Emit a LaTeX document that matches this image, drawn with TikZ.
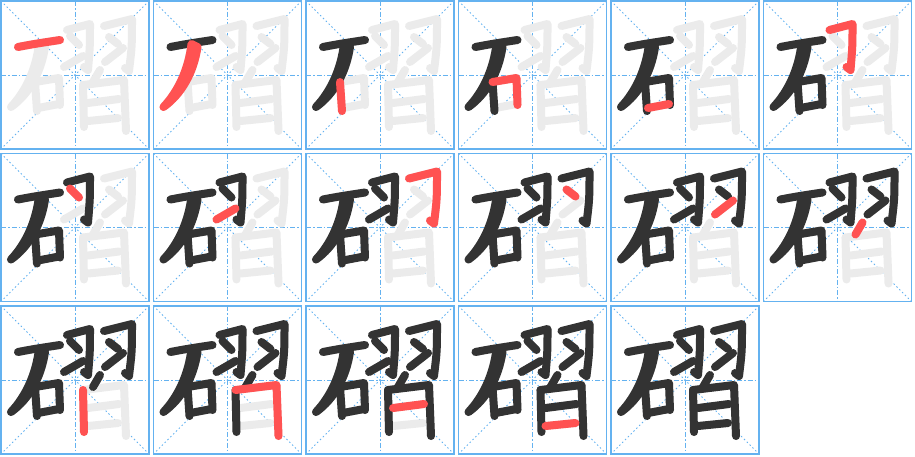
\documentclass[tikz,border=0pt]{standalone}
\usetikzlibrary{calc}

\definecolor{inkgray}{RGB}{51,51,51}
\definecolor{hotred}{RGB}{255,82,82}
\definecolor{ghostgray}{RGB}{235,235,235}
\definecolor{gridblue}{RGB}{100,178,240}

% one stroke of the character, in cell coordinates (0..148, y down)
\newcommand{\drawstroke}[2]{%
  \ifcase#1\or
    \draw[#2] (17,46) .. controls (32,43) and (46,41) .. (59,39);\or
    \draw[#2, fill] (38,43) .. controls (35,68) and (25,90) .. (10,106)
      .. controls (28,93) and (40,72) .. (44,46) -- cycle;\or
    \draw[#2] (34,81) -- (36,110);\or
    \draw[#2] (34,81) -- (58,77) -- (59,104);\or
    \draw[#2] (37,107) -- (58,103);\or
    \draw[#2] (66,29) -- (89,23) .. controls (89,45) .. (87,69) -- (83,66);\or
    \draw[#2] (69,35) -- (78,44);\or
    \draw[#2] (63,66) -- (82,55);\or
    \draw[#2] (103,25) -- (131,18) .. controls (131,45) .. (128,70) -- (124,67);\or
    \draw[#2] (108,36) -- (117,43);\or
    \draw[#2] (104,61) -- (122,47);\or
    \draw[#2] (99,69) -- (92,81);\or
    \draw[#2] (82,84) -- (83,126);\or
    \draw[#2] (82,84) -- (123,79) -- (125,130);\or
    \draw[#2] (87,102) -- (118,98);\or
    \draw[#2] (87,120) -- (117,117);\fi}

\begin{document}
\begin{tikzpicture}[
    x=1pt, y=-1pt,
    cell/.style={draw=gridblue, line width=1.5pt},
    midline/.style={gridblue, line width=0.9pt, dash pattern=on 5pt off 2pt on 1.5pt off 2pt},
    diagline/.style={gridblue, line width=0.9pt, dash pattern=on 1.5pt off 2.5pt},
    pen/.style={line width=8pt, line cap=round, line join=round},
    ghost/.style={pen, ghostgray},
    ink/.style={pen, inkgray},
    hot/.style={pen, hotred}
    ]

\useasboundingbox (0,0) rectangle (915,456);

\newcommand{\cellsize}{148}
\newcommand{\pitch}{152.5}

\foreach \k in {1,...,17} {
  \pgfmathtruncatemacro{\col}{mod(\k-1,6)}
  \pgfmathtruncatemacro{\row}{(\k-1)/6}
  \begin{scope}[shift={(1+\pitch*\col,1+\pitch*\row)}]
    % guides
    \draw[diagline] (0,0) -- (\cellsize,\cellsize);
    \draw[diagline] (\cellsize,0) -- (0,\cellsize);
    \draw[midline] (0,0.5*\cellsize) -- (\cellsize,0.5*\cellsize);
    \draw[midline] (0.5*\cellsize,0) -- (0.5*\cellsize,\cellsize);
    \draw[cell] (0,0) rectangle (\cellsize,\cellsize);
    % whole character in light gray
    \foreach \s in {1,...,16} {\drawstroke{\s}{ghost}}
    % strokes written so far
    \foreach \s in {1,...,\k} {
      \ifnum\s<\k \drawstroke{\s}{ink}\else\drawstroke{\s}{hot}\fi
    }
  \end{scope}
}

\end{tikzpicture}
\end{document}
